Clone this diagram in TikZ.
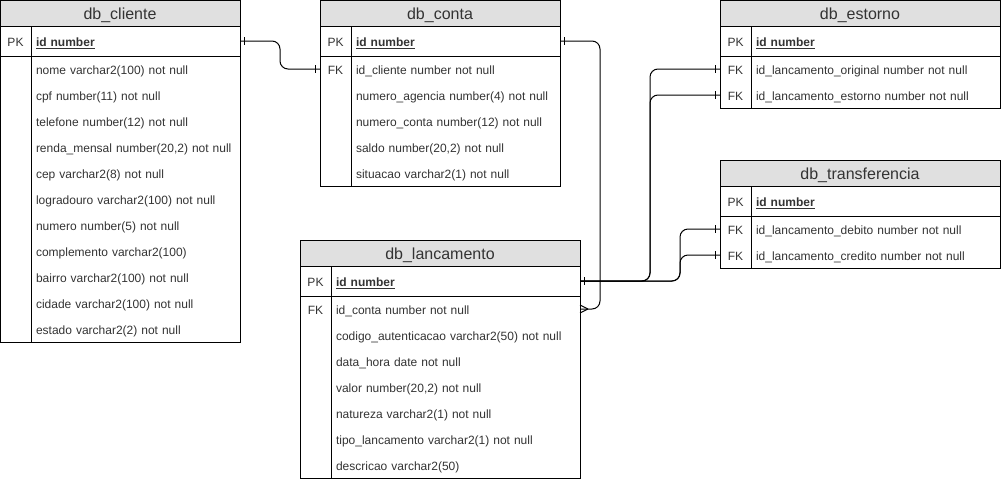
\documentclass[tikz,border=0pt]{standalone}
\usepackage{fontspec}
\setmainfont{Liberation Sans}
\usetikzlibrary{decorations.markings}
\definecolor{headgray}{HTML}{E0E0E0}

\begin{document}
\begin{tikzpicture}[x=1pt, y=-1pt,
  every node/.style={outer sep=0pt, text=black!80},
  head/.style={draw, fill=headgray, line width=1pt, anchor=north west, minimum height=26pt, inner sep=0pt, text height=15pt, text depth=2.4pt, font=\fontsize{16}{19}\selectfont},
  key/.style={anchor=north west, minimum width=31pt, minimum height=26pt, inner sep=0pt, text height=13pt, text depth=2.6pt, font=\fontsize{12}{14}\selectfont},
  field/.style={anchor=north west, text width=#1, inner xsep=5pt, inner ysep=0pt, minimum height=26pt, text height=13pt, text depth=2.6pt, align=left, font=\fontsize{12}{14}\selectfont},
  frame/.style={line width=1pt},
  rel/.style={line width=1pt, rounded corners=8pt},
  one start/.style={postaction={decorate, decoration={markings, mark=at position 4.5pt with {\draw[line width=1pt] (0,-4) -- (0,4);}}}},
  one end/.style={postaction={decorate, decoration={markings, mark=at position -4.5pt with {\draw[line width=1pt] (0,-4) -- (0,4);}}}},
  many end/.style={postaction={decorate, decoration={markings, mark=at position -0.1pt with {\draw[line width=1pt] (-8,0) -- (0,4) (-8,0) -- (0,-4);}}}}]

\useasboundingbox (0,0) rectangle (1001,482);

% db_cliente
\node[head, minimum width=240pt] (cli) at (0,0) {db\_cliente};
\node[key, minimum height=30pt] (cli-pkk) at (0,26) {PK};
\node[field=199pt, minimum height=30pt] (cli-pk) at (31,26) {\textbf{\underline{id number}}};
\foreach \txt [count=\i] in {nome varchar2(100) not null, cpf number(11) not null, telefone number(12) not null, {renda\_mensal number(20,2) not null}, cep varchar2(8) not null, logradouro varchar2(100) not null, numero number(5) not null, complemento varchar2(100), bairro varchar2(100) not null, cidade varchar2(100) not null, estado varchar2(2) not null}
  \node[field=199pt] (cli-\i) at (31,{56+26*(\i-1)}) {\txt};

% db_conta
\node[head, minimum width=240pt] (con) at (320,0) {db\_conta};
\node[key, minimum height=30pt] (con-pkk) at (320,26) {PK};
\node[field=199pt, minimum height=30pt] (con-pk) at (351,26) {\textbf{\underline{id number}}};
\node[key] (con-k1) at (320,56) {FK};
\foreach \txt [count=\i] in {id\_cliente number not null, numero\_agencia number(4) not null, numero\_conta number(12) not null, {saldo number(20,2) not null}, situacao varchar2(1) not null}
  \node[field=199pt] (con-\i) at (351,{56+26*(\i-1)}) {\txt};

% db_estorno
\node[head, minimum width=280pt] (est) at (720,0) {db\_estorno};
\node[key, minimum height=30pt] (est-pkk) at (720,26) {PK};
\node[field=239pt, minimum height=30pt] (est-pk) at (751,26) {\textbf{\underline{id number}}};
\node[key] (est-k1) at (720,56) {FK};
\node[key] (est-k2) at (720,82) {FK};
\foreach \txt [count=\i] in {id\_lancamento\_original number not null, id\_lancamento\_estorno number not null}
  \node[field=239pt] (est-\i) at (751,{56+26*(\i-1)}) {\txt};

% db_transferencia
\node[head, minimum width=280pt] (tra) at (720,160) {db\_transferencia};
\node[key, minimum height=30pt] (tra-pkk) at (720,186) {PK};
\node[field=239pt, minimum height=30pt] (tra-pk) at (751,186) {\textbf{\underline{id number}}};
\node[key] (tra-k1) at (720,216) {FK};
\node[key] (tra-k2) at (720,242) {FK};
\foreach \txt [count=\i] in {id\_lancamento\_debito number not null, id\_lancamento\_credito number not null}
  \node[field=239pt] (tra-\i) at (751,{216+26*(\i-1)}) {\txt};

% db_lancamento
\node[head, minimum width=280pt] (lan) at (300,240) {db\_lancamento};
\node[key, minimum height=30pt] (lan-pkk) at (300,266) {PK};
\node[field=239pt, minimum height=30pt] (lan-pk) at (331,266) {\textbf{\underline{id number}}};
\node[key] (lan-k1) at (300,296) {FK};
\foreach \txt [count=\i] in {id\_conta number not null, codigo\_autenticacao varchar2(50) not null, data\_hora date not null, {valor number(20,2) not null}, natureza varchar2(1) not null, tipo\_lancamento varchar2(1) not null, descricao varchar2(50)}
  \node[field=239pt] (lan-\i) at (331,{296+26*(\i-1)}) {\txt};

% table frames and key columns
\foreach \t/\n in {cli/11, con/5, est/2, tra/2, lan/7} {
  \draw[frame] (\t-pkk.north west) rectangle (\t-\n.south east);
  \draw[frame] (\t-pkk.south west) -- (\t-pk.south east);
  \draw[frame] (\t-pk.north west) -- (\t-pk.north west |- \t-\n.south);
}

% relationships
\draw[rel, one start, one end] (cli-pk.east) -- ++(40,0) |- (con-k1.west);
\draw[rel, one start, many end] (con-pk.east) -- ++(40,0) |- (lan-1.east);
\draw[rel, one start, one end] (lan-pk.east) -- ++(70,0) |- (est-k1.west);
\draw[rel, one start, one end] (lan-pk.east) -- ++(70,0) |- (est-k2.west);
\draw[rel, one start, one end] (lan-pk.east) -- ++(100,0) |- (tra-k1.west);
\draw[rel, one start, one end] (lan-pk.east) -- ++(100,0) |- (tra-k2.west);

\end{tikzpicture}
\end{document}
